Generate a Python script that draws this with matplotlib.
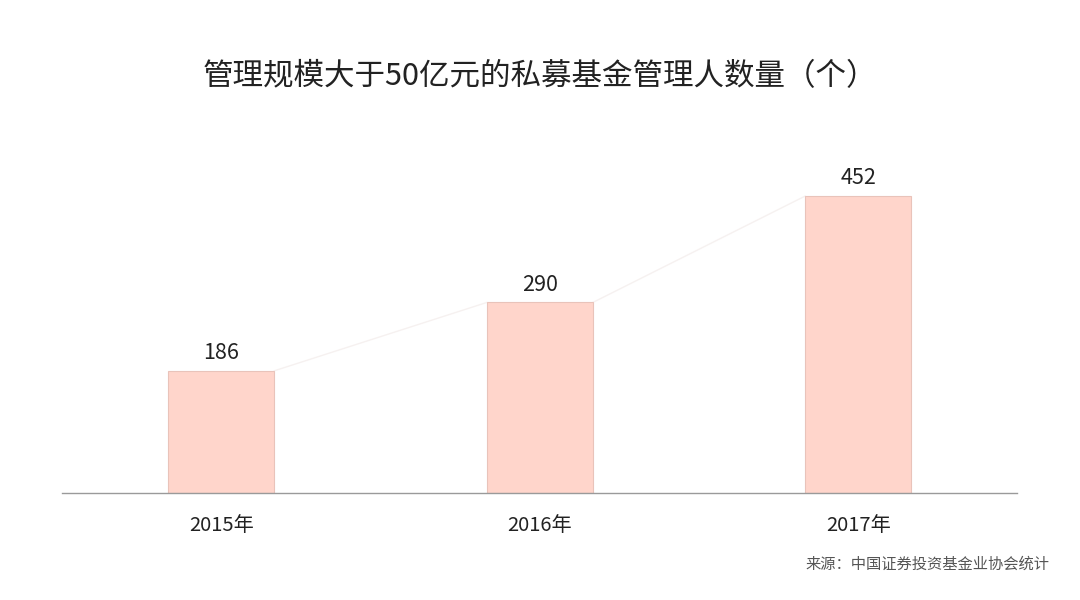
import matplotlib.pyplot as plt
import numpy as np

plt.rcParams["font.family"] = ["Noto Sans CJK SC", "DejaVu Sans"]

# data
years = ["2015年", "2016年", "2017年"]
counts = [186, 290, 452]

TITLE = "管理规模大于50亿元的私募基金管理人数量（个）"
SOURCE = "来源：中国证券投资基金业协会统计"

BAR_COLOR = "#FFD5CB"
EDGE_COLOR = "#E9C3BA"
TEXT_COLOR = "#222222"

fig = plt.figure(figsize=(10.8, 6), dpi=100)
ax = fig.add_axes([0.0574, 0.1783, 0.8847, 0.5475])

x = np.arange(len(years))
width = 0.333
ax.bar(x, counts, width=width, color=BAR_COLOR, edgecolor=EDGE_COLOR, linewidth=0.8, zorder=2)

# faint connector between bar tops
for i in range(len(counts) - 1):
    ax.plot([x[i] + width / 2, x[i + 1] - width / 2], [counts[i], counts[i + 1]],
            color="#F6F1F0", lw=1.0, zorder=1)

for xi, v in zip(x, counts):
    ax.annotate(str(v), (xi, v), xytext=(0, 5), textcoords="offset points",
                ha="center", va="bottom", fontsize=15.5, color=TEXT_COLOR)

ax.set_xlim(-0.5, 2.5)
ax.set_ylim(0, 500)
ax.set_xticks(x)
ax.set_xticklabels(years, fontsize=14.5, color=TEXT_COLOR)
ax.tick_params(axis="x", length=0, pad=15.5)
ax.set_yticks([])
for s in ["top", "right", "left"]:
    ax.spines[s].set_visible(False)
ax.spines["bottom"].set_color("#9a9a9a")
ax.spines["bottom"].set_linewidth(1.0)

fig.text(0.5, 0.873, TITLE, ha="center", va="center", fontsize=22, color=TEXT_COLOR)
fig.text(0.972, 0.06, SOURCE, ha="right", va="center", fontsize=11, color="#555555")

fig.savefig("out.png", dpi=100)
